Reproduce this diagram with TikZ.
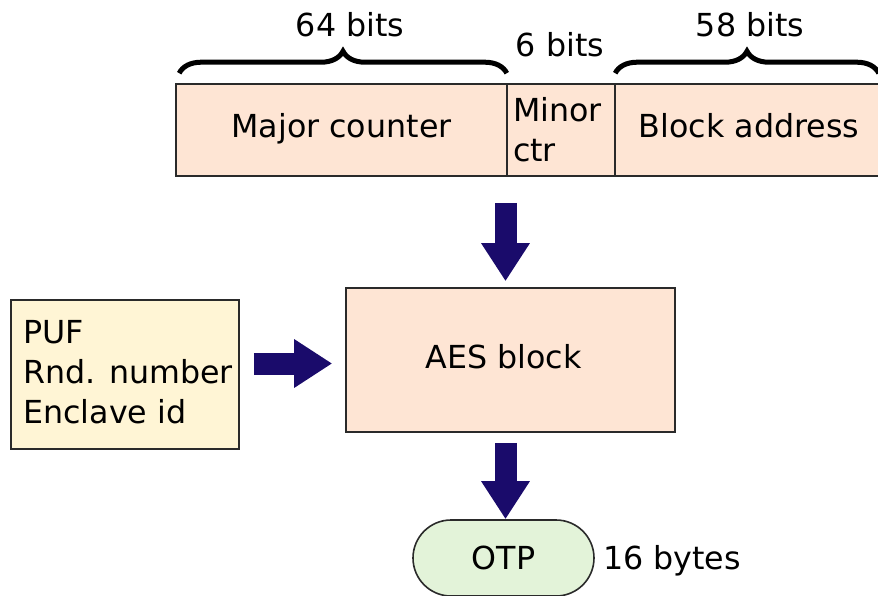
\documentclass[tikz,border=0pt]{standalone}
\usepackage{fontspec}
\setmainfont{DejaVu Sans}
\usetikzlibrary{arrows.meta,decorations.pathreplacing}
\definecolor{peach}{HTML}{FEE5D4}
\definecolor{cream}{HTML}{FFF5D5}
\definecolor{mint}{HTML}{E3F3D9}
\definecolor{navy}{HTML}{1A0B6B}
\definecolor{edge}{HTML}{2A2A2A}
\tikzset{
  box/.style={draw=edge, line width=1.6pt},
  field/.style={box, fill=peach, minimum height=92pt, inner sep=0pt},
  fat/.style={navy, line width=22pt, -{Triangle[length=38pt,width=46pt]}},
  bracket/.style={decorate, decoration={brace, amplitude=22pt}, line width=5pt},
  lbl/.style={inner sep=0pt},
}
\begin{document}
\begin{tikzpicture}[x=1pt, y=-1pt, font=\fontsize{31.7}{40}\selectfont]
\useasboundingbox (0,0) rectangle (878,595);
\begin{scope}
\clip (0,0) rectangle (878,595);

% address word: three fields
\node[field, minimum width=331pt, text height=23pt, text depth=9pt] (major) at (341.5,130) {Major counter};
\node[field, minimum width=108pt, text width=96pt, inner xsep=6pt, align=left] (minor) at (561,130) {Minor\\ctr};
\node[field, minimum width=268pt, text height=23pt, text depth=9pt] (block) at (749,130) {Block address};

% field widths
\draw[bracket] ([xshift=4pt,yshift=10pt]major.north west) -- ([xshift=-1pt,yshift=10pt]major.north east);
\draw[bracket] ([xshift=1pt,yshift=10pt]block.north west) -- ([xshift=-5pt,yshift=10pt]block.north east);
\node[lbl] (w64) at (350,25) {64 bits};
\node[lbl] (w6) at (560,45) {6 bits};
\node[lbl] (w58) at (750,25) {58 bits};

% cipher and its inputs
\node[box, fill=peach, minimum width=329pt, minimum height=144pt] (aes) at (510.5,360) {};
\node[lbl] (aestext) at ([xshift=-7pt,yshift=3pt]aes.center) {AES block};
\node[box, fill=cream, minimum width=228pt, minimum height=149pt] (key) at (125,374.5) {};
\node[lbl, anchor=west, align=left] (keytext) at ([xshift=13pt,yshift=2pt]key.west) {PUF\\Rnd. number\\Enclave id};
\node[box, fill=mint, minimum width=181pt, minimum height=76pt,
      rounded corners=38pt] (otp) at (503.5,558) {OTP};
\node[lbl, anchor=base west] (size) at (603,569.5) {16 bytes};

% data flow
\coordinate (col) at (505.5,0);
\draw[fat, shorten <=26pt, shorten >=6pt] (major.south -| col) -- (aes.north -| col);
\draw[fat, shorten <=14pt, shorten >=13pt] (key.east |- 0,363.5) -- (aes.west |- 0,363.5);
\draw[fat, shorten <=10pt] (aes.south -| col) -- (otp.north -| col);
\end{scope}
\end{tikzpicture}
\end{document}
